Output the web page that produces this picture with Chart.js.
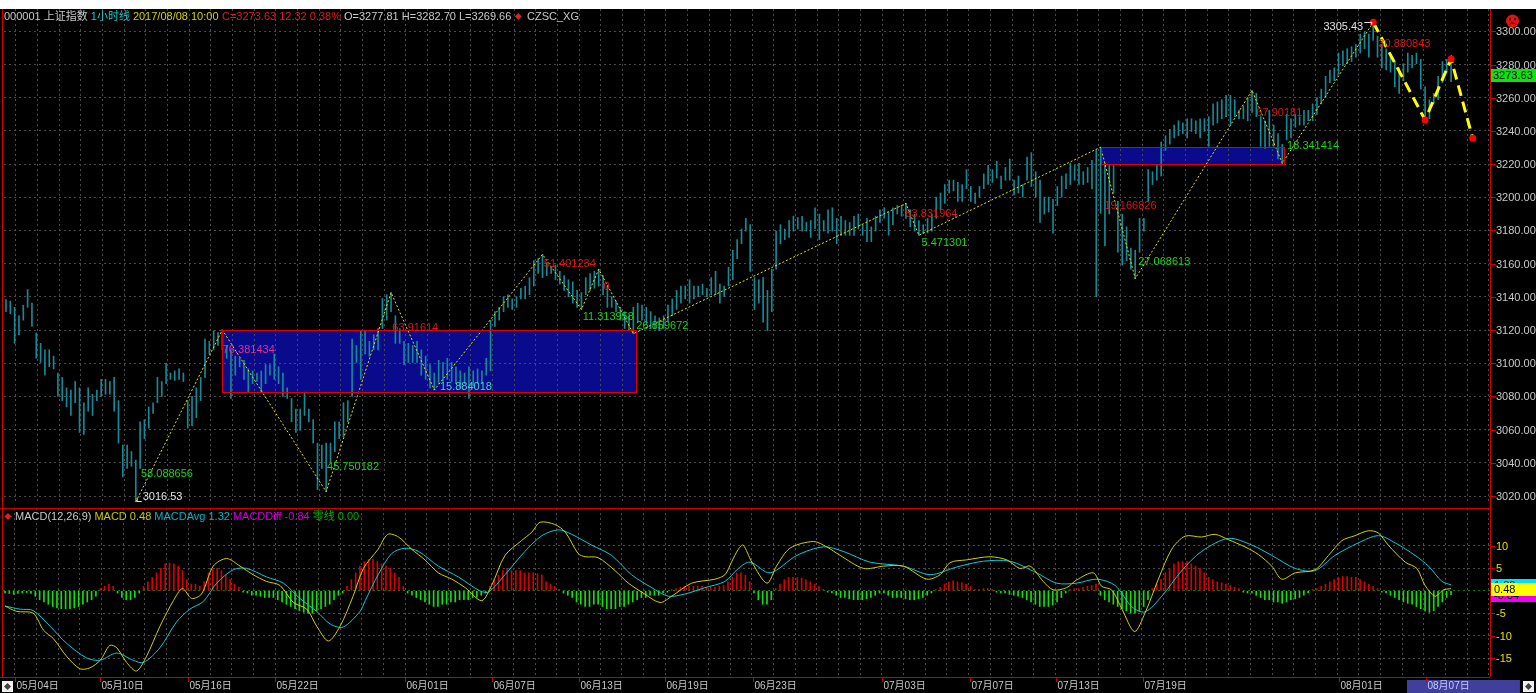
<!DOCTYPE html>
<html>
<head>
<meta charset="utf-8">
<script src="https://cdn.jsdelivr.net/npm/chart.js@4.4.0/dist/chart.umd.min.js"></script>
<style>
  html, body { margin: 0; padding: 0; background: #ffffff; overflow: hidden; }
  #wrap { position: relative; width: 1536px; height: 693px; }
  canvas { position: absolute; left: 0; }
  #price { top: 0; }
  #macd { top: 508px; }
</style>
</head>
<body>
<div id="wrap">
  <canvas id="price" width="1536" height="508"></canvas>
  <canvas id="macd" width="1536" height="185"></canvas>
</div>
<script>
// 000001 上证指数 1小时线 (bar index = hour bar)
const highs = [
  3138.3, 3137.5, 3133.7, 3128.6, 3135.0, 3144.4, 3136.2, 3118.3, 3112.0, 3108.1,
  3108.1, 3104.3, 3094.1, 3091.5, 3085.2, 3083.9, 3089.0, 3085.2, 3076.2, 3085.2,
  3081.3, 3083.9, 3090.3, 3090.3, 3089.0, 3091.5, 3077.5, 3050.7, 3050.7, 3046.8,
  3041.7, 3064.7, 3066.0, 3073.7, 3076.2, 3091.5, 3089.0, 3100.0, 3094.1, 3095.4,
  3096.6, 3094.1, 3077.5, 3080.0, 3085.2, 3091.5, 3114.5, 3113.2, 3119.6, 3118.5,
  3120.1, 3110.7, 3108.1, 3104.3, 3103.0, 3101.8, 3096.6, 3095.4, 3094.1, 3095.4,
  3099.2, 3099.2, 3105.6, 3097.9, 3094.1, 3085.2, 3078.8, 3072.4, 3072.4, 3082.6,
  3072.4, 3066.0, 3051.9, 3050.7, 3051.9, 3051.9, 3064.7, 3064.7, 3076.2, 3077.5,
  3114.5, 3110.7, 3119.6, 3119.6, 3113.2, 3117.1, 3120.9, 3139.0, 3141.3, 3142.6,
  3128.6, 3120.9, 3113.2, 3112.0, 3110.7, 3113.2, 3108.1, 3104.3, 3099.2, 3094.1,
  3101.8, 3100.5, 3103.0, 3100.5, 3097.9, 3095.4, 3094.1, 3097.9, 3095.4, 3096.6,
  3095.4, 3103.0, 3126.0, 3131.1, 3133.7, 3140.1, 3141.3, 3138.8, 3140.1, 3145.2,
  3146.5, 3151.6, 3161.8, 3163.0, 3165.6, 3160.5, 3157.9, 3159.2, 3155.4, 3152.8,
  3150.3, 3149.0, 3143.9, 3142.6, 3151.6, 3154.1, 3155.4, 3156.7, 3152.8, 3146.5,
  3140.1, 3137.5, 3133.7, 3131.1, 3128.6, 3133.7, 3136.2, 3135.0, 3133.7, 3131.1,
  3128.6, 3127.3, 3128.6, 3135.0, 3138.8, 3143.9, 3146.5, 3146.5, 3150.3, 3146.5,
  3146.5, 3147.7, 3145.2, 3151.6, 3155.4, 3147.7, 3146.5, 3157.9, 3168.1, 3174.5,
  3180.9, 3187.3, 3183.5, 3151.6, 3150.3, 3151.6, 3143.9, 3156.7, 3179.6, 3183.5,
  3180.9, 3186.0, 3188.6, 3187.8, 3188.6, 3184.8, 3186.0, 3193.7, 3189.9, 3186.0,
  3192.4, 3193.7, 3187.3, 3188.6, 3186.0, 3184.8, 3188.6, 3189.9, 3183.5, 3187.3,
  3182.2, 3188.6, 3192.4, 3193.7, 3191.1, 3193.7, 3195.0, 3195.0, 3196.3, 3192.4,
  3189.9, 3186.0, 3183.5, 3187.3, 3189.9, 3200.1, 3202.6, 3207.7, 3210.3, 3210.3,
  3209.0, 3207.7, 3216.7, 3206.5, 3202.6, 3206.5, 3214.1, 3219.2, 3216.7, 3221.8,
  3212.8, 3218.0, 3223.1, 3210.3, 3212.8, 3207.7, 3224.3, 3226.9, 3215.4, 3210.3,
  3200.1, 3200.1, 3198.8, 3206.5, 3212.8, 3214.1, 3220.5, 3219.2, 3220.5, 3215.4,
  3218.0, 3222.2, 3228.7, 3230.2, 3220.5, 3219.2, 3219.2, 3197.5, 3189.9, 3182.2,
  3169.4, 3168.1, 3187.3, 3187.3, 3216.7, 3215.4, 3219.2, 3233.3, 3237.1, 3240.9,
  3243.5, 3246.1, 3244.8, 3247.3, 3247.3, 3246.1, 3247.3, 3247.3, 3248.6, 3256.3,
  3257.5, 3258.8, 3261.4, 3261.4, 3258.8, 3252.4, 3255.0, 3260.1, 3264.4, 3262.6,
  3248.6, 3246.1, 3252.4, 3243.5, 3238.4, 3232.0, 3249.9, 3247.3, 3249.9, 3248.6,
  3252.4, 3252.4, 3256.3, 3260.1, 3265.2, 3272.9, 3276.7, 3278.0, 3286.9, 3288.2,
  3289.5, 3290.7, 3292.0, 3298.4, 3299.7, 3298.4, 3305.43, 3297.1, 3292.0, 3289.5,
  3285.6, 3281.8, 3278.0, 3280.5, 3286.9, 3285.6, 3286.9, 3283.1, 3266.5, 3258.8,
  3262.6, 3272.9, 3281.8, 3283.1, 3282.70
];
const lows = [
  3131.1, 3129.8, 3112.0, 3117.1, 3126.0, 3133.7, 3122.2, 3103.0, 3100.5, 3092.8,
  3097.9, 3096.6, 3080.0, 3077.5, 3073.7, 3068.5, 3076.2, 3058.3, 3057.1, 3071.1,
  3068.5, 3077.5, 3080.0, 3081.3, 3081.3, 3071.1, 3051.9, 3031.5, 3036.6, 3037.9,
  3016.53, 3036.6, 3054.5, 3060.9, 3069.8, 3076.2, 3080.0, 3087.7, 3090.3, 3089.7,
  3090.3, 3089.0, 3060.9, 3062.2, 3067.3, 3077.5, 3091.5, 3105.6, 3108.1, 3110.7,
  3108.1, 3103.0, 3078.8, 3092.8, 3097.9, 3090.3, 3082.6, 3087.7, 3089.0, 3082.6,
  3087.7, 3092.8, 3090.3, 3087.7, 3080.0, 3078.8, 3064.7, 3058.3, 3059.6, 3068.5,
  3064.7, 3051.9, 3023.9, 3036.6, 3022.6, 3040.5, 3046.8, 3054.5, 3055.8, 3064.7,
  3080.0, 3100.5, 3090.3, 3105.6, 3104.3, 3108.1, 3108.1, 3120.9, 3126.0, 3131.1,
  3112.0, 3112.0, 3099.2, 3100.5, 3100.5, 3100.5, 3092.8, 3090.3, 3085.2, 3083.9,
  3087.7, 3089.0, 3090.3, 3089.0, 3087.7, 3085.2, 3087.7, 3078.8, 3086.4, 3087.7,
  3087.7, 3092.8, 3095.4, 3122.2, 3126.0, 3131.1, 3133.7, 3132.4, 3133.7, 3138.8,
  3138.8, 3141.3, 3146.5, 3154.1, 3151.6, 3152.8, 3154.1, 3150.3, 3147.7, 3143.9,
  3140.1, 3136.2, 3133.7, 3132.4, 3141.3, 3143.9, 3145.2, 3146.5, 3141.3, 3133.7,
  3133.7, 3131.1, 3126.0, 3120.9, 3119.6, 3117.8, 3124.7, 3126.0, 3123.5, 3120.9,
  3120.9, 3119.6, 3120.9, 3124.7, 3128.6, 3132.4, 3136.2, 3138.8, 3136.2, 3138.8,
  3140.1, 3141.3, 3140.1, 3141.3, 3141.3, 3136.2, 3140.1, 3146.5, 3150.3, 3163.0,
  3172.0, 3179.6, 3155.4, 3132.4, 3136.2, 3124.7, 3119.6, 3131.1, 3156.7, 3172.0,
  3174.5, 3175.8, 3179.6, 3180.9, 3179.6, 3179.6, 3175.8, 3180.9, 3174.5, 3179.6,
  3178.4, 3179.6, 3172.0, 3177.1, 3177.1, 3177.1, 3177.1, 3180.9, 3177.1, 3173.3,
  3173.3, 3179.6, 3184.8, 3187.3, 3177.1, 3183.5, 3189.9, 3188.6, 3187.3, 3182.2,
  3179.6, 3177.1, 3178.0, 3178.4, 3179.6, 3187.3, 3192.4, 3196.3, 3202.6, 3203.9,
  3197.5, 3197.5, 3205.2, 3197.5, 3196.3, 3200.1, 3205.2, 3207.7, 3209.0, 3211.6,
  3205.2, 3210.3, 3210.3, 3201.4, 3202.6, 3200.1, 3210.3, 3206.5, 3200.1, 3184.8,
  3189.9, 3191.1, 3178.4, 3195.0, 3200.1, 3205.2, 3207.7, 3210.3, 3207.7, 3207.7,
  3209.0, 3205.0, 3140.1, 3190.3, 3170.7, 3189.9, 3202.6, 3166.9, 3159.2, 3161.8,
  3156.7, 3151.0, 3166.9, 3179.6, 3197.5, 3207.7, 3210.3, 3212.8, 3228.2, 3232.0,
  3235.8, 3237.1, 3238.4, 3235.8, 3239.7, 3238.4, 3235.8, 3239.7, 3230.7, 3243.5,
  3244.8, 3247.3, 3248.6, 3243.5, 3248.6, 3247.3, 3247.3, 3246.1, 3251.2, 3248.6,
  3230.7, 3229.4, 3230.7, 3230.7, 3223.1, 3220.5, 3234.6, 3235.8, 3242.2, 3243.5,
  3243.5, 3246.1, 3246.1, 3249.9, 3256.3, 3260.1, 3269.0, 3270.3, 3274.1, 3279.3,
  3280.5, 3281.8, 3284.4, 3286.9, 3289.5, 3284.4, 3294.6, 3284.4, 3278.0, 3276.7,
  3275.4, 3266.5, 3262.6, 3270.3, 3275.4, 3278.0, 3280.5, 3265.2, 3247.3, 3247.3,
  3256.3, 3258.8, 3269.0, 3275.4, 3269.66
];

// 笔 (zigzag) pivots and the projected part
const pivK = [30, 50, 74, 89, 99, 124, 133, 137, 145, 208, 211, 253, 261, 288, 295, 316];
const pivP = [3016.53, 3120.1, 3022.6, 3142.6, 3083.9, 3165.6, 3132.4, 3156.7, 3117.8,
              3196.3, 3177.1, 3230.2, 3151.0, 3264.4, 3220.5, 3305.43];
const futK = [316, 328, 334, 339];
const futP = [3305.43, 3246.6, 3283.3, 3235.6];

// 中枢 boxes
const boxK0 = [50, 253];
const boxK1 = [145.5, 295.5];
const boxLow = [3082.6, 3220.0];
const boxHigh = [3120.1, 3230.2];

// texts on the price panel
const annK = [31.2, 31.6, 50.1, 74.2, 89.3, 100.3, 124.3, 138.1, 133.3, 145.7,
              207.9, 211.6, 253.9, 261.7, 289.0, 296.1, 317.2, 304.5];
const annP = [3033.0, 3019.4, 3108.1, 3037.4, 3121.0, 3085.6, 3159.9, 3145.9, 3128.0, 3122.7,
              3189.8, 3172.7, 3194.5, 3161.0, 3250.6, 3230.7, 3292.5, 3302.7];
const annText = ['58.088656', '3016.53', '76.381434', '45.750182', '63.91614', '15.884018',
                 '51.401234', '0', '11.313958', '26.859672', '53.831964', '5.471301',
                 '19.166826', '27.068613', '67.90181', '18.341414', '30.880843', '3305.43'];
const annKind = ['g', 'w', 'm', 'g', 'r', 'c', 'r', 'r', 'g', 'g', 'r', 'g', 'r', 'g', 'r', 'g', 'r', 'w'];

// MACD(12,26,9)
const difK = [0, 2.7, 6.5, 8.9, 11.2, 14.2, 17.3, 19.6, 22.0, 24.2, 25.8, 28.1, 30.4, 32.7, 35.8,
  38.9, 41.0, 43.1, 45.4, 48.1, 51.2, 54.3, 57.3, 60.4, 63.5, 66.6, 69.7, 72.0, 74.7, 77.4, 80.4,
  82.8, 86.2, 88.4, 90.9, 93.9, 97.0, 100.1, 103.2, 106.3, 110.1, 112.4, 115.5, 119.3, 121.7,
  123.6, 127.0, 129.4, 132.4, 134.0, 137.0, 140.9, 144.0, 147.1, 151.3, 154.0, 158.6, 164.0,
  166.3, 167.8, 169.4, 170.5, 172.5, 176.0, 178.2, 181.3, 186.7, 189.8, 192.9, 198.3, 202.9,
  207.5, 212.9, 216.0, 218.3, 222.1, 227.5, 231.4, 234.4, 236.8, 239.8, 242.1, 245.2, 247.5,
  251.4, 253.3, 255.6, 258.0, 260.9, 263.3, 266.4, 269.5, 272.6, 276.4, 279.5, 282.6, 286.4,
  289.5, 292.6, 294.9, 298.0, 302.6, 305.7, 308.8, 311.8, 314.9, 317.2, 319.5, 323.4, 326.1,
  328.0, 330.3, 332.2, 334.0];
const difV = [-3.4, -4.6, -5.0, -8.8, -10.7, -14.6, -17.4, -17.2, -15.5, -12.2, -12.7, -16.0,
  -17.9, -14.6, -7.9, -2.2, 0.5, -1.7, -0.7, 5.5, 7.2, 5.5, 3.6, 2.1, 1.2, -2.6, -4.1, -7.9,
  -11.2, -7.9, -1.2, 5.0, 9.3, 12.6, 12.0, 9.3, 6.9, 4.0, 2.6, 0.7, -2.2, 1.2, 7.9, 11.2, 13.1,
  15.3, 14.8, 13.1, 8.3, 7.6, 7.4, 4.5, 1.7, -0.3, -2.6, -1.2, 1.7, 2.6, 3.6, 6.4, 9.3, 10.2,
  6.4, 1.7, 5.5, 9.5, 11.0, 9.8, 7.9, 5.0, 5.5, 5.5, 2.6, 3.6, 6.3, 6.9, 7.6, 6.9, 5.0, 5.5,
  2.1, 0.2, 0.7, 2.4, 4.0, 1.0, 0.2, -4.1, -9.1, -5.0, 2.6, 9.3, 12.2, 12.0, 12.6, 11.4, 9.8,
  8.1, 5.5, 2.6, 4.0, 4.7, 7.9, 11.2, 12.3, 13.4, 12.9, 10.2, 6.4, 5.0, 1.2, -1.2, 0.2, 0.48];
const deaK = [0, 3.5, 6.5, 10.4, 14.2, 18.9, 22.0, 25.8, 29.6, 32.0, 35.8, 39.6, 42.7, 45.8,
  48.9, 52.7, 55.8, 60.4, 64.3, 68.1, 72.0, 75.1, 78.1, 82.0, 83.2, 86.2, 89.3, 92.4, 95.5,
  100.1, 104.7, 109.3, 111.6, 115.5, 120.1, 124.0, 127.8, 130.9, 135.5, 140.1, 144.7, 149.4,
  153.2, 157.1, 161.7, 166.3, 169.4, 172.1, 176.7, 182.9, 189.0, 193.6, 199.8, 207.5, 213.7,
  219.8, 226.0, 232.1, 238.3, 242.9, 247.5, 252.2, 256.4, 260.3, 263.3, 267.2, 271.8, 276.4,
  282.6, 288.0, 292.6, 298.0, 302.6, 307.2, 312.6, 317.2, 321.1, 325.7, 328.8, 331.9, 334.0];
const deaV = [-3.4, -4.1, -4.4, -7.9, -11.7, -15.0, -15.5, -13.9, -15.5, -16.0, -12.7, -7.0,
  -4.1, -2.4, 1.7, 4.7, 5.0, 3.1, 1.7, -1.7, -4.6, -7.4, -8.1, -4.6, -2.2, 3.6, 8.3, 9.5, 8.8,
  5.5, 3.1, 0.2, -0.3, 3.6, 8.8, 12.3, 13.6, 12.6, 10.2, 7.9, 3.6, 0.7, -1.2, -0.7, 0.7, 2.1,
  5.0, 6.4, 4.0, 7.9, 9.8, 8.8, 6.4, 5.5, 3.6, 5.3, 6.6, 6.6, 4.0, 1.7, 1.7, 2.6, 1.2, -3.6,
  -4.7, -1.2, 4.5, 8.8, 11.7, 10.2, 7.9, 5.0, 4.5, 7.9, 10.7, 12.3, 10.7, 7.9, 5.5, 2.1, 1.32];
const hist = [
  -0.5, -0.6, -0.8, -0.6, -0.5, -0.4, -0.6, -1.2,
  -2, -2.5, -3, -3.5, -3.8, -4, -4, -4, -3.8, -3.5, -3, -2.5, -2, -1.2,
  0.5, 1, 1.5, 1,
  -0.5, -1.5, -2, -2, -1.5, -0.5,
  1, 2, 3, 4, 5, 6, 6.2, 6, 5.5, 4.5, 2.5,
  1.5, 1.5, 1, 2,
  4, 4.8, 5, 4.5, 3.5, 2.5, 1.5, 0.8,
  -0.3, -0.5, -1, -1, -1.2, -1.5, -1.5, -1.5, -2, -2.5, -3, -3.5, -4, -4.5, -4.8, -5, -5, -4.5,
  -4, -3.5, -3, -2, -1, -0.5,
  1, 2.5, 4, 5.5, 6.5, 7, 7,
  6.5, 6, 5.5, 5, 4, 3, 1,
  -0.5, -1, -1.5, -2, -2.5, -3, -3.5, -3.5, -3, -3, -2.5, -2.5, -2, -2, -2, -1.5, -1.5, -1, -0.5,
  1, 2.5, 3.5, 4.5, 5, 4.5, 4.5, 4.5, 4, 4, 4, 3.8, 3.5, 2,
  1.5, 1, 0.3,
  -0.5, -1, -1.5, -2.5, -3, -3.5, -3.5, -3, -3, -3.5, -4, -4, -4, -3.5, -3.5, -3, -2.5, -2, -1.5,
  -1.5, -1, -1, -1, -0.5, -0.3,
  0.3, 0.5, 0.8, 1, 1, 1, 1, 1, 0.8, 0.8, 0.8, 1, 1.2, 2, 3, 4, 4,
  3.5, 2,
  -0.5, -2, -3, -3, -2,
  0.5, 1.5, 2.5, 3, 3, 3, 2.8, 2.5, 2, 1.5, 1,
  0.3,
  -0.3, -0.5, -1, -1.5, -1.5, -1.8, -2, -2, -2, -1.8, -1.5, -1, -0.5, -0.5, -1, -1.5, -1.5, -1.5,
  -1.8, -2, -2, -1.8, -1.5, -1, -0.5,
  0.3, 0.8, 1.5, 2, 2.2, 2, 1.8, 1.5, 1,
  0.3, 0.3, 0.5, 0.5, 0.3,
  -0.3, -0.5, -0.5, -0.8, -1, -1.2, -1.5, -2, -2.5, -3, -3.5, -3.5, -3.5, -3.2, -2.5, -1.5,
  -0.5, 0.3, 0.5, 0.5, 0.8, 1, 1.2, 1.5,
  -1, -2, -2.5, -3, -3.5, -4, -4.5, -5, -5, -4.5, -3.5, -2,
  0.5, 1.5, 2.5, 4, 5, 6, 6.5, 6.5, 6.5, 6, 5.5, 5, 4, 3, 2.5, 2, 1.8, 1.5, 1.2, 0.8, 0.5,
  -0.3, -0.5, -0.5, -1, -1.5, -2, -2, -2.5, -2.5, -2.8, -2.5, -2, -1.8, -1.5, -1, -0.5,
  0.3, 0.5, 1, 1.5, 2, 2.5, 3, 3.2, 3.2, 3, 3, 2.5, 2, 1.5, 1, 0.5,
  -0.3, -0.5, -1, -1.5, -2, -2.5, -2.8, -3, -3.5, -4, -4.5, -4.8, -4.5, -3.5, -2.5, -1.5, -0.84
];

// axes
const priceTicks = [3020, 3040, 3060, 3080, 3100, 3120, 3140, 3160, 3180, 3200, 3220, 3240, 3260, 3280, 3300];
const macdTicks = [10, 5, 0, -5, -10, -15];
const macdLabels = [10, 5, -5, -10, -15];
const dateK = [2.24, 22.06, 42.2, 62.25, 92.5, 112.4, 132.5, 152.5, 172.7, 202.6, 222.8, 242.8, 262.9, 308.2, 328.2];
const dateLabels = ['05月04日', '05月10日', '05月16日', '05月22日', '06月01日', '06月07日', '06月13日',
                    '06月19日', '06月23日', '07月03日', '07月07日', '07月13日', '07月19日', '08月01日', '08月07日'];
const lastClose = 3273.63;
const lastMacd = 0.48, lastAvg = 1.32, lastDiff = -0.84;

const X_MIN = -0.46, X_MAX = 343.0;
const GRID = '#4a4a4a';
const RED = '#d00000';
const FONT = '11px "Liberation Sans", Arial, "Noto Sans CJK SC", sans-serif';
const FONT_DATE = '10px "Liberation Sans", Arial, "Noto Sans CJK SC", sans-serif';
const annColors = { g: '#1ed21e', r: '#d81818', m: '#e0309a', c: '#3cd2c8', w: '#e0e0e0' };

// day grid every 5 hour-bars
const gridK = [];
for (let v = 2.3; v <= X_MAX; v += 5.006) gridK.push(v);

function xAxis() {
  return {
    type: 'linear', min: X_MIN, max: X_MAX, offset: false,
    ticks: { display: false },
    grid: { color: GRID, drawTicks: false, offset: false },
    border: { display: false, dash: [2, 3] },
    afterBuildTicks: (s) => { s.ticks = gridK.map((v) => ({ value: v })); },
    afterFit: (s) => { s.height = 0; },
  };
}

function drawDiamond(ctx, cx, cy, r, color) {
  ctx.fillStyle = color;
  ctx.beginPath();
  ctx.moveTo(cx, cy - r); ctx.lineTo(cx + r, cy); ctx.lineTo(cx, cy + r); ctx.lineTo(cx - r, cy);
  ctx.closePath(); ctx.fill();
}

// texts that start at a reference x but never overlap the previous one
function drawSegments(ctx, segs, y) {
  let end = 0;
  segs.forEach(([text, color, x]) => {
    const x0 = Math.max(x, end + 3);
    if (text === '◆') {
      drawDiamond(ctx, x0 + 4, y, 3.5, color);
      end = x0 + 8;
    } else {
      ctx.fillStyle = color;
      ctx.fillText(text, x0, y);
      end = x0 + ctx.measureText(text).width;
    }
  });
}

function hline(ctx, x1, x2, y) {
  ctx.beginPath(); ctx.moveTo(x1, y); ctx.lineTo(x2, y); ctx.stroke();
}
function vline(ctx, x, y1, y2) {
  ctx.beginPath(); ctx.moveTo(x, y1); ctx.lineTo(x, y2); ctx.stroke();
}

const pricePanel = {
  id: 'pricePanel',
  beforeDraw(chart) {
    const { ctx, scales: { x, y } } = chart;
    ctx.save();
    ctx.fillStyle = '#000000';
    ctx.fillRect(0, 9, chart.width, chart.height - 9);
    ctx.fillStyle = '#0a0a8c';
    boxK0.forEach((k0, i) => {
      const x1 = x.getPixelForValue(k0), x2 = x.getPixelForValue(boxK1[i]);
      const y1 = y.getPixelForValue(boxHigh[i]), y2 = y.getPixelForValue(boxLow[i]);
      ctx.fillRect(x1, y1, x2 - x1, y2 - y1);
    });
    ctx.restore();
  },
  afterDatasetsDraw(chart) {
    const { ctx, scales: { x, y } } = chart;
    ctx.save();
    ctx.strokeStyle = '#e00000';
    ctx.lineWidth = 1;
    boxK0.forEach((k0, i) => {
      const x1 = Math.round(x.getPixelForValue(k0)) + 0.5, x2 = Math.round(x.getPixelForValue(boxK1[i])) + 0.5;
      const y1 = Math.round(y.getPixelForValue(boxHigh[i])) + 0.5, y2 = Math.round(y.getPixelForValue(boxLow[i])) + 0.5;
      ctx.strokeRect(x1, y1, x2 - x1, y2 - y1);
    });

    ctx.font = FONT;
    ctx.textBaseline = 'middle';
    annText.forEach((t, i) => {
      const px = x.getPixelForValue(annK[i]), py = y.getPixelForValue(annP[i]);
      ctx.fillStyle = annColors[annKind[i]];
      ctx.fillText(t, px, py);
      if (t === '3016.53') {
        ctx.strokeStyle = '#e0e0e0';
        hline(ctx, px - 6, px - 1, Math.round(py) + 4.5);
        vline(ctx, px - 5.5, py + 1, py + 5);
      }
      if (t === '3305.43') {
        const w = ctx.measureText(t).width;
        ctx.strokeStyle = '#e0e0e0';
        hline(ctx, px + w + 1, px + w + 9, Math.round(py) - 4.5);
        vline(ctx, px + w + 8.5, py - 5, py - 2);
      }
    });
    ctx.restore();
  },
  afterDraw(chart) {
    const { ctx, chartArea: a, scales: { y } } = chart;
    ctx.save();
    ctx.strokeStyle = RED;
    ctx.lineWidth = 1;
    vline(ctx, 2.5, 9, chart.height);
    vline(ctx, a.right + 0.5, 9, chart.height);

    // right axis
    ctx.font = FONT;
    ctx.textBaseline = 'middle';
    priceTicks.forEach((v) => {
      const py = Math.round(y.getPixelForValue(v)) + 0.5;
      ctx.strokeStyle = RED;
      hline(ctx, a.right, a.right + 6, py);
      ctx.fillStyle = '#c8c8c8';
      ctx.fillText(v.toFixed(2), a.right + 6, py);
    });
    const cy = Math.round(y.getPixelForValue(lastClose));
    ctx.fillStyle = '#10e010';
    ctx.fillRect(a.right + 1, cy - 6, chart.width - a.right - 1, 13);
    ctx.fillStyle = '#000000';
    ctx.fillText(lastClose.toFixed(2), a.right + 3, cy + 0.5);

    // header
    drawSegments(ctx, [
      ['000001 上证指数', '#c8c8c8', 4],
      ['1小时线', '#20c8c8', 89],
      ['2017/08/08 10:00', '#d2d200', 132],
      ['C=3273.63 12.32 0.38%', '#e01e1e', 222],
      ['O=3277.81 H=3282.70 L=3269.66', '#c8c8c8', 344],
      ['◆', '#e01e1e', 513],
      ['CZSC_XG', '#c8c8c8', 527],
    ], 16.5);

    // sad face
    const fx = 1512.5, fy = 21;
    ctx.fillStyle = '#e01414';
    ctx.beginPath(); ctx.arc(fx, fy, 6.5, 0, Math.PI * 2); ctx.fill();
    ctx.fillStyle = '#5a0000';
    ctx.fillRect(fx - 3.5, fy - 3, 2, 2.5);
    ctx.fillRect(fx + 1.5, fy - 3, 2, 2.5);
    ctx.strokeStyle = '#5a0000';
    ctx.beginPath(); ctx.arc(fx, fy + 5, 3.2, Math.PI * 1.15, Math.PI * 1.85); ctx.stroke();
    ctx.restore();
  },
};

const priceChart = new Chart(document.getElementById('price'), {
  data: {
    datasets: [
      {
        type: 'bar',
        data: highs.map((h, i) => ({ x: i, y: [lows[i], h] })),
        backgroundColor: '#168896',
        barThickness: 1,
        grouped: false,
        order: 3,
      },
      {
        type: 'line',
        data: pivK.map((k, i) => ({ x: k, y: pivP[i] })),
        borderColor: '#e6e600',
        borderWidth: 1,
        borderDash: [2, 2],
        pointRadius: 0,
        tension: 0,
        order: 2,
      },
      {
        type: 'line',
        data: futK.map((k, i) => ({ x: k, y: futP[i] })),
        borderColor: '#ffff00',
        borderWidth: 3,
        borderDash: [11, 6],
        pointRadius: 3.5,
        pointBackgroundColor: '#ff0000',
        pointBorderWidth: 0,
        tension: 0,
        order: 1,
      },
    ],
  },
  options: {
    responsive: false,
    animation: false,
    layout: { padding: { left: 3, right: 46, top: 9, bottom: 0 } },
    plugins: { legend: { display: false }, tooltip: { enabled: false } },
    scales: {
      x: xAxis(),
      y: {
        position: 'right', min: 3015.2, max: 3313.45,
        ticks: { display: false },
        grid: { color: GRID, drawTicks: false },
        border: { display: false, dash: [2, 3] },
        afterBuildTicks: (s) => { s.ticks = priceTicks.map((v) => ({ value: v })); },
        afterFit: (s) => { s.width = 0; },
      },
    },
  },
  plugins: [pricePanel],
});

const macdPanel = {
  id: 'macdPanel',
  beforeDraw(chart) {
    const { ctx } = chart;
    ctx.save();
    ctx.fillStyle = '#000000';
    ctx.fillRect(0, 0, chart.width, chart.height);
    ctx.restore();
  },
  afterDraw(chart) {
    const { ctx, chartArea: a, scales: { x, y } } = chart;
    ctx.save();
    ctx.strokeStyle = RED;
    ctx.lineWidth = 1;
    hline(ctx, 0, a.right, 0.5);
    hline(ctx, 0, a.right, a.bottom + 0.5);
    vline(ctx, 2.5, 0, a.bottom);
    vline(ctx, a.right + 0.5, 0, a.bottom);

    ctx.font = FONT;
    ctx.textBaseline = 'middle';
    macdLabels.forEach((v) => {
      const py = Math.round(y.getPixelForValue(v)) + 0.5;
      ctx.strokeStyle = RED;
      hline(ctx, a.right, a.right + 5, py);
      ctx.fillStyle = '#e0e000';
      ctx.fillText(String(v), a.right + 6, py);
    });
    [[lastAvg, '#00e0f0'], [lastDiff, '#f000f0'], [lastMacd, '#ffff00']].forEach(([v, c]) => {
      const py = Math.round(y.getPixelForValue(v));
      ctx.fillStyle = c;
      ctx.fillRect(a.right + 1, py - 6, chart.width - a.right - 1, 13);
      ctx.fillStyle = '#000000';
      ctx.fillText(v.toFixed(2), a.right + 4, py + 0.5);
    });

    drawSegments(ctx, [
      ['◆', '#e01e1e', 4],
      ['MACD(12,26,9)', '#c8c8c8', 15],
      ['MACD 0.48', '#c8c800', 89],
      ['MACDAvg 1.32', '#00b4c8', 146],
      ['MACDDiff -0.84', '#d000d0', 223],
      ['零线 0.00', '#00b000', 300],
    ], 8.5);

    // date axis
    const ly = a.bottom + 9;
    const hx = x.getPixelForValue(dateK[dateK.length - 1]);
    ctx.fillStyle = '#40409c';
    ctx.fillRect(hx - 19, a.bottom + 3, 113, chart.height - a.bottom - 3);
    ctx.font = FONT_DATE;
    dateK.forEach((k, i) => {
      const px = Math.round(x.getPixelForValue(k)) + 0.5;
      ctx.strokeStyle = RED;
      vline(ctx, px, a.bottom, a.bottom + 5);
      ctx.fillStyle = i === dateK.length - 1 ? '#c8c8ff' : '#c8c8c8';
      ctx.fillText(dateLabels[i], px + 1, ly);
    });

    // little scroll buttons
    [[2, a.bottom + 4], [1523, a.bottom + 4]].forEach(([bx, by]) => {
      ctx.fillStyle = '#f0f0f0';
      ctx.fillRect(bx, by, 11, 11);
      drawDiamond(ctx, bx + 5.5, by + 5.5, 3.5, '#404040');
    });
    ctx.restore();
  },
};

const macdChart = new Chart(document.getElementById('macd'), {
  data: {
    datasets: [
      {
        type: 'bar',
        data: hist.map((v, i) => ({ x: i, y: v })),
        backgroundColor: (c) => (c.raw && c.raw.y >= 0 ? '#d80000' : '#10e010'),
        barThickness: 1,
        grouped: false,
        order: 3,
      },
      {
        type: 'line',
        data: deaK.map((k, i) => ({ x: k, y: deaV[i] })),
        borderColor: '#10c8d8',
        borderWidth: 1,
        pointRadius: 0,
        tension: 0.3,
        order: 2,
      },
      {
        type: 'line',
        data: difK.map((k, i) => ({ x: k, y: difV[i] })),
        borderColor: '#d0d000',
        borderWidth: 1,
        pointRadius: 0,
        tension: 0.3,
        order: 1,
      },
    ],
  },
  options: {
    responsive: false,
    animation: false,
    layout: { padding: { left: 3, right: 46, top: 0, bottom: 16 } },
    plugins: { legend: { display: false }, tooltip: { enabled: false } },
    scales: {
      x: xAxis(),
      y: {
        position: 'right', min: -19.24, max: 18.48,
        ticks: { display: false },
        grid: { color: (c) => (c.tick && c.tick.value === 0 ? '#008000' : GRID), drawTicks: false },
        border: { display: false, dash: [2, 3] },
        afterBuildTicks: (s) => { s.ticks = macdTicks.map((v) => ({ value: v })); },
        afterFit: (s) => { s.width = 0; },
      },
    },
  },
  plugins: [macdPanel],
});
</script>
</body>
</html>
